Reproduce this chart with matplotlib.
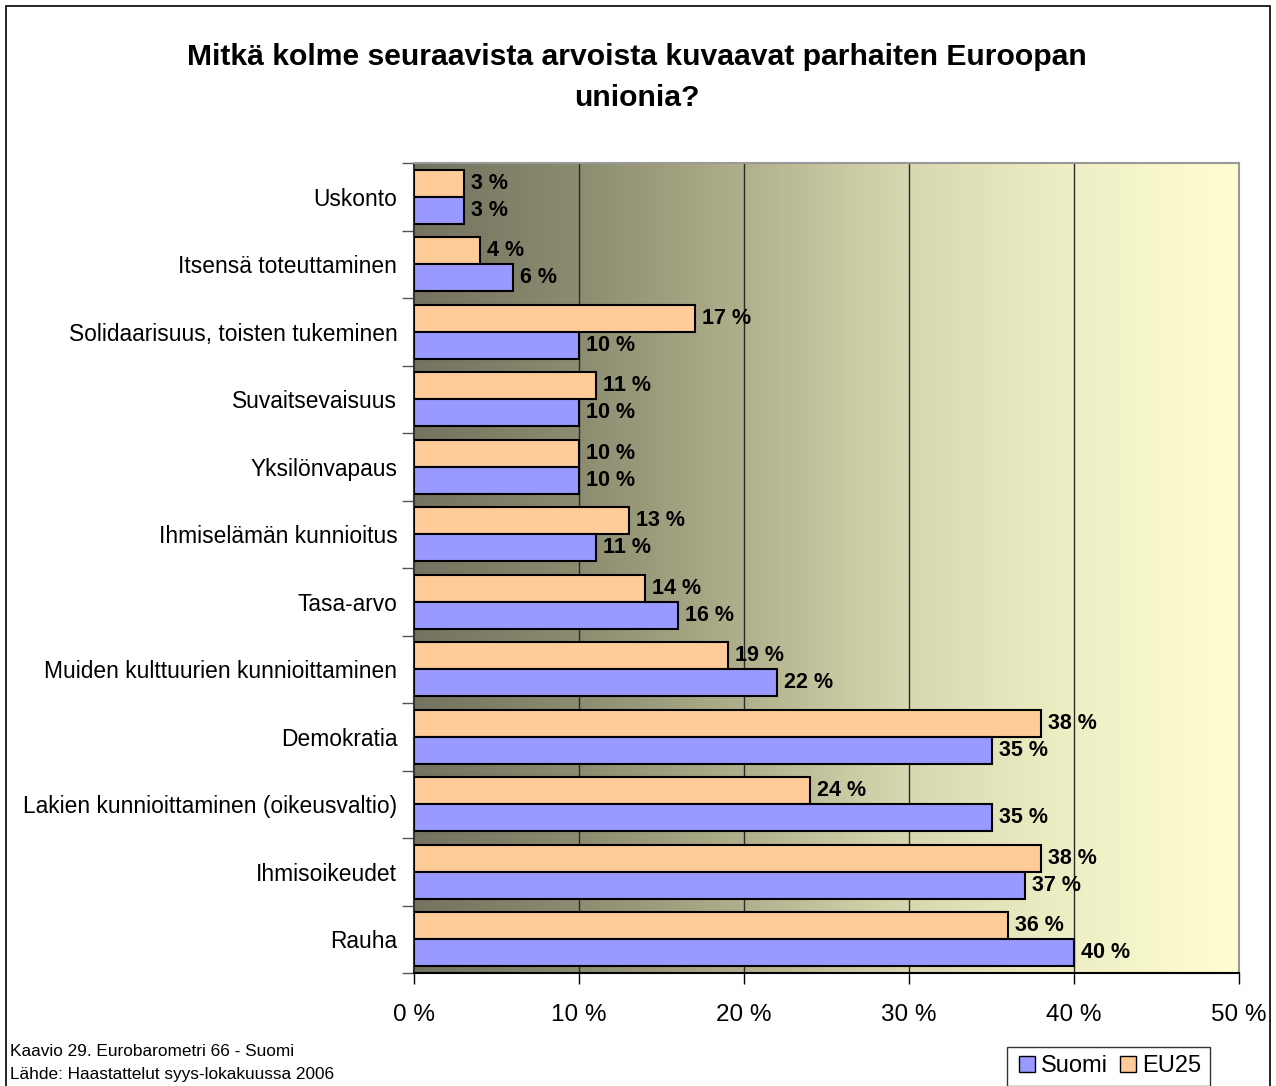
import numpy as np
import matplotlib
matplotlib.use("Agg")
import matplotlib.pyplot as plt
from matplotlib.colors import LinearSegmentedColormap
from matplotlib.patches import Rectangle
from matplotlib.lines import Line2D

plt.rcParams['font.family'] = ['Liberation Sans', 'DejaVu Sans']

categories = [
    "Uskonto",
    "Itsensä toteuttaminen",
    "Solidaarisuus, toisten tukeminen",
    "Suvaitsevaisuus",
    "Yksilönvapaus",
    "Ihmiselämän kunnioitus",
    "Tasa-arvo",
    "Muiden kulttuurien kunnioittaminen",
    "Demokratia",
    "Lakien kunnioittaminen (oikeusvaltio)",
    "Ihmisoikeudet",
    "Rauha",
]
eu25 = [3, 4, 17, 11, 10, 13, 14, 19, 38, 24, 38, 36]
suomi = [3, 6, 10, 10, 10, 11, 16, 22, 35, 35, 37, 40]
xticks = [0, 10, 20, 30, 40, 50]

C_SUOMI = "#9999ff"
C_EU = "#ffcc99"

fig = plt.figure(figsize=(12.76, 10.86), dpi=100)
ax = fig.add_axes([414 / 1276, 1 - 973 / 1086, 825 / 1276, 810 / 1086])

# gradient background of the plot area
bg = LinearSegmentedColormap.from_list(
    "bg", [(0.0, "#737360"), (0.2, "#8c8c70"), (0.4, "#b0b08c"),
           (0.6, "#d8d8b0"), (0.8, "#efefc6"), (1.0, "#fefed0")])
grad = np.linspace(0, 1, 512).reshape(1, -1)
ax.imshow(grad, cmap=bg, aspect="auto", extent=[0, 50, -0.5, len(categories) - 0.5],
          zorder=0, interpolation="bilinear")

n = len(categories)
y = np.arange(n)
h = 0.4
ax.barh(y - h / 2, eu25, height=h, color=C_EU, edgecolor="black", linewidth=1.5, zorder=3)
ax.barh(y + h / 2, suomi, height=h, color=C_SUOMI, edgecolor="black", linewidth=1.5, zorder=3)

for yi, v in zip(y, eu25):
    ax.text(v + 0.45, yi - h / 2, f"{v} %", va="center", ha="left",
            fontsize=15.5, fontweight="bold", zorder=4)
for yi, v in zip(y, suomi):
    ax.text(v + 0.45, yi + h / 2, f"{v} %", va="center", ha="left",
            fontsize=15.5, fontweight="bold", zorder=4)

ax.set_xlim(0, 50)
ax.set_ylim(n - 0.5, -0.5)
for xv in xticks[1:-1]:
    ax.axvline(xv, color="#2a2a2a", linewidth=1.0, zorder=1)

ax.set_xticks(xticks)
ax.set_xticklabels([f"{v} %" for v in xticks], fontsize=17.5)
ax.tick_params(axis="x", direction="out", length=8, width=1, pad=14, color="black")
ax.set_yticks(y)
ax.set_yticklabels(categories, fontsize=16.4)
ax.tick_params(axis="y", length=0, pad=12)
ax.set_yticks(np.arange(-0.5, n, 1), minor=True)
ax.tick_params(axis="y", which="minor", direction="out", length=9, width=1, color="#555555")

ax.spines["left"].set_color("#333333")
ax.spines["bottom"].set_color("black")
ax.spines["top"].set_color("#999999")
ax.spines["right"].set_color("#999999")
for s in ax.spines.values():
    s.set_linewidth(1.5)

fig.text(637 / 1276, 1 - 57 / 1086, "Mitkä kolme seuraavista arvoista kuvaavat parhaiten Euroopan",
         ha="center", va="center", fontsize=21.7, fontweight="bold")
fig.text(637 / 1276, 1 - 98 / 1086, "unionia?", ha="center", va="center",
         fontsize=21.7, fontweight="bold")

fig.text(10 / 1276, 1 - 1052 / 1086, "Kaavio 29. Eurobarometri 66 - Suomi",
         ha="left", va="center", fontsize=12.4)
fig.text(10 / 1276, 1 - 1074 / 1086, "Lähde: Haastattelut syys-lokakuussa 2006",
         ha="left", va="center", fontsize=12.4)

# outer chart frame
fig.patches.append(Rectangle((6 / 1276, -0.01), 1264 / 1276, 1 - 6 / 1086 + 0.01,
                             transform=fig.transFigure, fill=False,
                             edgecolor="black", linewidth=1.2))

handles = [
    Line2D([], [], marker="s", linestyle="none", markersize=11,
           markerfacecolor=C_SUOMI, markeredgecolor="black", label="Suomi"),
    Line2D([], [], marker="s", linestyle="none", markersize=11,
           markerfacecolor=C_EU, markeredgecolor="black", label="EU25"),
]
leg = fig.legend(handles=handles, loc="upper left", ncol=2,
                 bbox_to_anchor=(1007 / 1276, 1 - 1047 / 1086), fontsize=17,
                 frameon=True, fancybox=False, edgecolor="black",
                 handletextpad=0.1, columnspacing=0.35, handlelength=1.0,
                 borderpad=0.35, borderaxespad=0)
leg.get_frame().set_linewidth(1.0)

fig.savefig("out.png", dpi=100)
